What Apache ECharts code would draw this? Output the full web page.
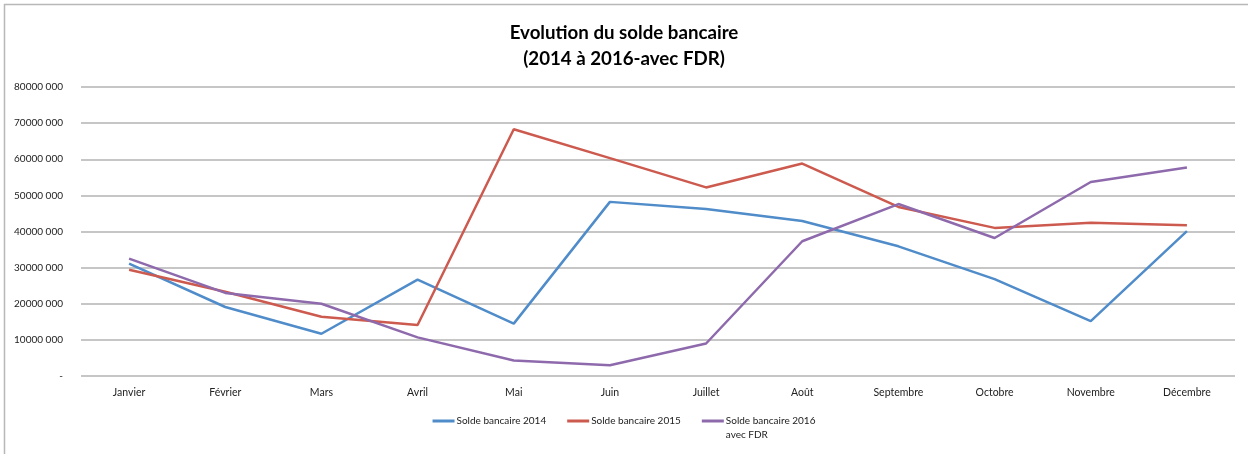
<!DOCTYPE html>
<html>
<head>
<meta charset="utf-8">
<script src="https://cdn.jsdelivr.net/npm/echarts@6/dist/echarts.min.js"></script>
<style>
html,body{margin:0;padding:0;background:#fff;}
#chart{width:1248px;height:454px;}
</style>
</head>
<body>
<div id="chart"></div>
<script>
const categories = ['Janvier','Février','Mars','Avril','Mai','Juin','Juillet','Août','Septembre','Octobre','Novembre','Décembre'];
const solde2014 = [31100000,19100000,11700000,26700000,14500000,48200000,46200000,42900000,35900000,26800000,15200000,40100000];
const solde2015 = [29400000,23300000,16400000,14100000,68300000,60300000,52200000,58800000,46800000,41000000,42400000,41700000];
const solde2016 = [32500000,23000000,20000000,10700000,4300000,3000000,9000000,37300000,47600000,38200000,53700000,57700000];
const seriesNames = ['Solde bancaire 2014','Solde bancaire 2015','Solde bancaire 2016 avec FDR'];
const colors = ['#4f8cc9','#cd5a4f','#8e6aad'];

function fmt(v){
  if(v===0) return '-';
  const s = String(Math.round(v));
  return s.slice(0, s.length-3) + ' ' + s.slice(-3);
}

const chart = echarts.init(document.getElementById('chart'));
const FONT = 'Lato, "Open Sans", sans-serif';
chart.setOption({
  backgroundColor:'#fff',
  animation:false,
  textStyle:{fontFamily:FONT},
  title:{
    text:'Evolution du solde bancaire\n(2014 à 2016-avec FDR)',
    left:'center', top:15,
    textStyle:{fontSize:18.7, fontWeight:'bold', color:'#000', lineHeight:26, fontFamily:FONT}
  },
  legend:{
    top:395, left:'center',
    itemGap:21, itemWidth:22, itemHeight:3,
    icon:'rect',
    textStyle:{fontSize:10, color:'#222', lineHeight:14, padding:[0,0,0,-3]},
    formatter:function(n){ return n==='Solde bancaire 2016 avec FDR' ? '\nSolde bancaire 2016\navec FDR' : n; },
    data:seriesNames
  },
  grid:{left:81, right:13, top:87, bottom:78},
  xAxis:{
    type:'category', data:categories, boundaryGap:true,
    axisLine:{show:false}, axisTick:{show:false},
    axisLabel:{fontSize:10.5, color:'#222', margin:11}
  },
  yAxis:{
    type:'value', min:0, max:80000000, interval:10000000,
    axisLine:{show:false}, axisTick:{show:false},
    axisLabel:{fontSize:10, color:'#222', margin:18, formatter:fmt},
    splitLine:{lineStyle:{color:'#b3b3b3', width:1.5}}
  },
  graphic:[
    {type:'line', shape:{x1:4.5,y1:4,x2:4.5,y2:454}, style:{stroke:'#b8b8b8', lineWidth:1.5}},
    {type:'line', shape:{x1:4,y1:4.5,x2:1248,y2:4.5}, style:{stroke:'#b8b8b8', lineWidth:1.5}}
  ],
  series:[
    {name:seriesNames[0], type:'line', data:solde2014, symbol:'none', lineStyle:{width:2.5, color:colors[0]}, itemStyle:{color:colors[0]}},
    {name:seriesNames[1], type:'line', data:solde2015, symbol:'none', lineStyle:{width:2.5, color:colors[1]}, itemStyle:{color:colors[1]}},
    {name:seriesNames[2], type:'line', data:solde2016, symbol:'none', lineStyle:{width:2.5, color:colors[2]}, itemStyle:{color:colors[2]}}
  ]
});
</script>
</body>
</html>
